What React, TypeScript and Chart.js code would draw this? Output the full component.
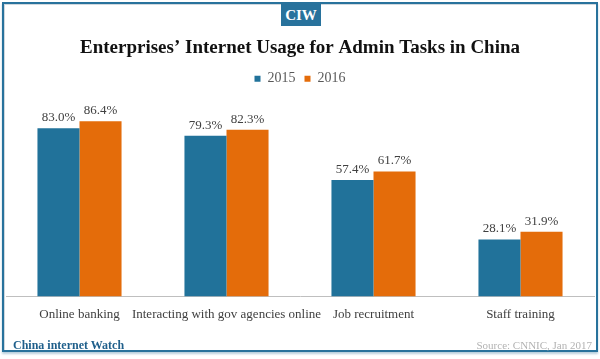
import React, { useEffect, useRef } from "react";
import { Chart, registerables } from "chart.js";

Chart.register(...registerables);

const categories = [
  "Online banking",
  "Interacting with gov agencies online",
  "Job recruitment",
  "Staff training",
];
const series2015 = [83.0, 79.3, 57.4, 28.1];
const series2016 = [86.4, 82.3, 61.7, 31.9];
const seriesNames = ["2015", "2016"];

const BLUE = "#21729a";
const ORANGE = "#e46c0a";
const FRAME = "#28729c";
const SERIF = "'Liberation Serif', 'DejaVu Serif', serif";

const valueLabels = {
  id: "valueLabels",
  afterDatasetsDraw(chart: any) {
    const ctx = chart.ctx;
    ctx.save();
    ctx.font = `13px ${SERIF}`;
    ctx.fillStyle = "#404040";
    ctx.textAlign = "center";
    ctx.textBaseline = "bottom";
    chart.data.datasets.forEach((ds: any, di: number) => {
      const meta = chart.getDatasetMeta(di);
      meta.data.forEach((bar: any, i: number) => {
        const v = ds.data[i];
        ctx.fillText(v.toFixed(1) + "%", bar.x, bar.y - 4);
      });
    });
    ctx.restore();
  },
};

export default function App() {
  const ref = useRef<HTMLCanvasElement | null>(null);
  useEffect(() => {
    if (!ref.current) return;
    const chart = new Chart(ref.current, {
      type: "bar",
      data: {
        labels: categories,
        datasets: [
          {
            label: seriesNames[0],
            data: series2015,
            backgroundColor: BLUE,
            categoryPercentage: 0.572,
            barPercentage: 1,
          },
          {
            label: seriesNames[1],
            data: series2016,
            backgroundColor: ORANGE,
            categoryPercentage: 0.572,
            barPercentage: 1,
          },
        ],
      },
      options: {
        animation: false,
        responsive: false,
        devicePixelRatio: 1,
        layout: { padding: { top: 31, left: 6, right: 6, bottom: 27 } },
        plugins: {
          tooltip: { enabled: false },
          title: {
            display: true,
            text: "Enterprises\u2019 Internet Usage for Admin Tasks in China",
            color: "#111111",
            font: { family: SERIF, size: 19, weight: "bold" },
            padding: { top: 6, bottom: 3 },
          },
          legend: {
            display: true,
            position: "top",
            labels: {
              boxWidth: 6,
              boxHeight: 6,
              padding: 9,
              color: "#595959",
              font: { family: SERIF, size: 14 },
            },
          },
        },
        scales: {
          x: {
            grid: { display: false, drawTicks: false },
            border: { display: true, color: "#bfbfbf", width: 1 },
            ticks: {
              color: "#404040",
              font: { family: SERIF, size: 13 },
              padding: 10,
              maxRotation: 0,
              autoSkip: false,
            },
          },
          y: {
            display: false,
            min: 0,
            max: 99,
          },
        },
      },
      plugins: [valueLabels],
    });
    return () => chart.destroy();
  }, []);

  return (
    <div
      style={{
        position: "fixed",
        left: 0,
        top: 0,
        width: 600,
        height: 359,
        background: "#ffffff",
        overflow: "hidden",
      }}
    >
      <div
        style={{
          position: "absolute",
          left: 2,
          top: 2,
          width: 592,
          height: 346,
          border: `2px solid ${FRAME}`,
          boxShadow: "inset 1px 1px 0 #d0d8de, 0 2px 2px #b9cfdc",
        }}
      />
      <canvas
        ref={ref}
        width={600}
        height={359}
        style={{ position: "absolute", left: 0, top: 0, width: 600, height: 359 }}
      />
      <div
        style={{
          position: "absolute",
          left: 281,
          top: 4,
          width: 40,
          height: 22,
          background: FRAME,
          color: "#ffffff",
          fontFamily: SERIF,
          fontWeight: "bold",
          fontSize: 15,
          lineHeight: "22px",
          textAlign: "center",
        }}
      >
        CIW
      </div>
      <div
        style={{
          position: "absolute",
          left: 13,
          top: 337,
          color: "#1f5f8b",
          fontFamily: SERIF,
          fontWeight: "bold",
          fontSize: 12,
          lineHeight: "16px",
        }}
      >
        China internet Watch
      </div>
      <div
        style={{
          position: "absolute",
          right: 8,
          top: 337,
          color: "#b3b3b3",
          fontFamily: SERIF,
          fontSize: 11,
          lineHeight: "16px",
        }}
      >
        Source: CNNIC, Jan 2017
      </div>
    </div>
  );
}
